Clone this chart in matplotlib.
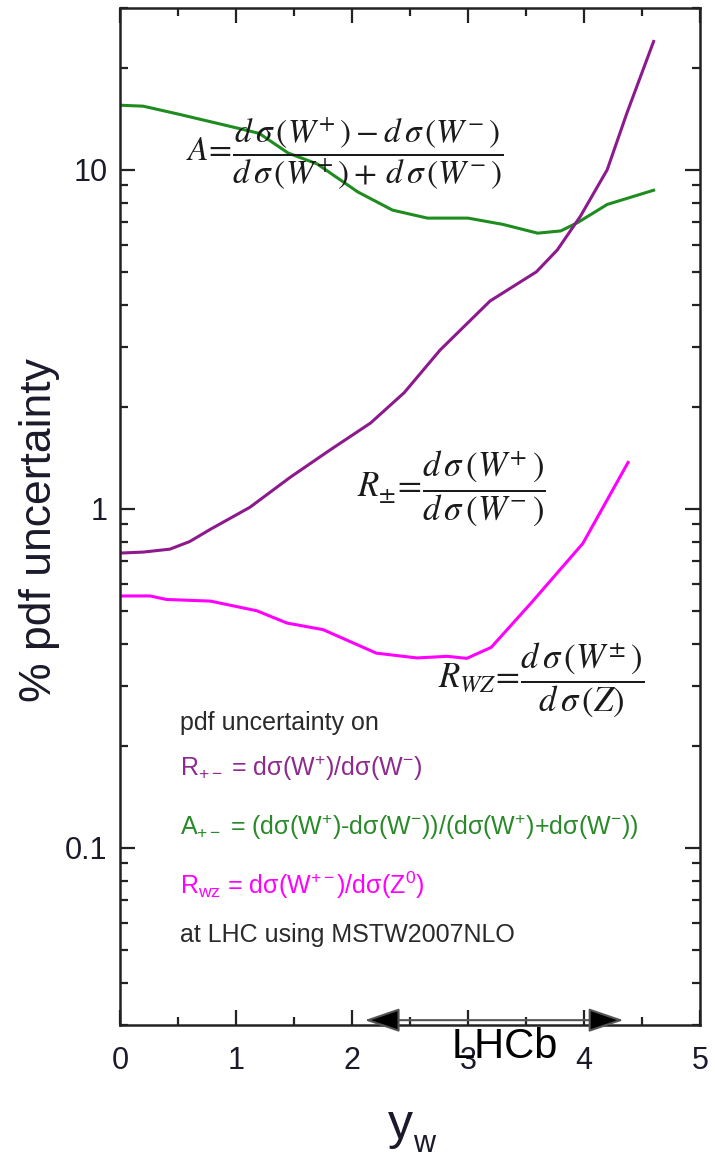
import matplotlib
matplotlib.use("Agg")
import matplotlib.pyplot as plt
from matplotlib.ticker import FixedLocator, NullFormatter, LogLocator

# PDF uncertainty (%) vs W rapidity
y_A = [0.0, 0.2, 0.5, 1.0, 1.2, 1.45, 1.7, 2.05, 2.35, 2.65, 3.0, 3.3, 3.6, 3.8, 3.95, 4.2, 4.6]
unc_A = [15.5, 15.4, 14.6, 13.3, 12.8, 11.2, 10.4, 8.6, 7.6, 7.2, 7.2, 6.9, 6.5, 6.6, 7.0, 7.9, 8.7]

y_Rpm = [0.0, 0.2, 0.43, 0.6, 0.78, 1.12, 1.47, 1.81, 2.16, 2.45, 2.76, 3.19, 3.59, 3.77, 3.97, 4.2, 4.37, 4.6]
unc_Rpm = [0.74, 0.745, 0.76, 0.80, 0.87, 1.01, 1.24, 1.49, 1.79, 2.2, 2.94, 4.1, 5.0, 5.8, 7.3, 10.0, 14.7, 23.9]

y_Rwz = [0.0, 0.26, 0.4, 0.78, 1.18, 1.44, 1.75, 2.21, 2.56, 2.82, 2.99, 3.2, 3.55, 3.99, 4.38]
unc_Rwz = [0.553, 0.553, 0.54, 0.534, 0.50, 0.46, 0.44, 0.375, 0.363, 0.367, 0.362, 0.39, 0.53, 0.79, 1.37]

lhcb_range = [2.11, 4.34]

x_ticks = [0, 1, 2, 3, 4, 5]
y_ticks = [0.1, 1, 10]
y_ticklabels = ["0.1", "1", "10"]

legend_lines = [
    ("pdf uncertainty on", "#2a2a2a"),
    (r"$\mathregular{R_{+-}}$ = dσ(W$\mathregular{^{+}}$)/dσ(W$\mathregular{^{-}}$)", "#8e2a8e"),
    (r"$\mathregular{A_{+-}}$ = (dσ(W$\mathregular{^{+}}$)-dσ(W$\mathregular{^{-}}$))/(dσ(W$\mathregular{^{+}}$)+dσ(W$\mathregular{^{-}}$))", "#2a8a2a"),
    (r"$\mathregular{R_{wz}}$ = dσ(W$\mathregular{^{+-}}$)/dσ(Z$\mathregular{^{0}}$)", "#ff00ff"),
    ("at LHC using MSTW2007NLO", "#2a2a2a"),
]

c_green = "#1f8c1f"
c_purple = "#8c1a8c"
c_magenta = "#ff00ff"

plt.rcParams["font.family"] = ["Liberation Sans", "DejaVu Sans"]
plt.rcParams["mathtext.fontset"] = "stix"

fig = plt.figure(figsize=(7.15, 11.6), dpi=100)
ax = fig.add_axes([120 / 715, 1 - 1025 / 1160, 580 / 715, 1017 / 1160])

ax.plot(y_A, unc_A, color=c_green, lw=2.2)
ax.plot(y_Rpm, unc_Rpm, color=c_purple, lw=2.2)
ax.plot(y_Rwz, unc_Rwz, color=c_magenta, lw=2.2)

ax.set_yscale("log")
ax.set_xlim(0, 5)
ax.set_ylim(0.03, 30)

ax.xaxis.set_major_locator(FixedLocator(x_ticks))
ax.xaxis.set_minor_locator(FixedLocator([0.5, 1.5, 2.5, 3.5, 4.5]))
ax.yaxis.set_major_locator(FixedLocator(y_ticks))
ax.yaxis.set_minor_locator(LogLocator(base=10, subs=range(2, 10)))
ax.yaxis.set_minor_formatter(NullFormatter())
ax.set_xticklabels([str(t) for t in x_ticks])
ax.set_yticklabels(y_ticklabels)

for lab in ax.get_xticklabels() + ax.get_yticklabels():
    lab.set_fontsize(22)
    lab.set_color("#1a1a2a")

ax.tick_params(which="both", direction="in", top=True, right=True, width=1.6, color="#222222")
ax.tick_params(which="major", length=11)
ax.tick_params(which="minor", length=6)
ax.tick_params(axis="x", which="major", pad=15)
ax.tick_params(axis="y", which="major", pad=9)
for sp in ax.spines.values():
    sp.set_linewidth(1.8)
    sp.set_color("#222222")

fig.text(40 / 715, 1 - 530 / 1160, "% pdf uncertainty", fontsize=32, rotation=90,
         ha="center", va="center", color="#1a1a2a")
# x label: y with a small w subscript
fig.text(413 / 715, 1 - 1126 / 1160, "y", fontsize=36,
         ha="right", va="center", color="#1a1a2a")
fig.text(413 / 715, 1 - 1144 / 1160, "w", fontsize=22,
         ha="left", va="center", color="#1a1a2a")

# formulas
ax.text(0.57, 11.2,
        r"$A\!=\!\dfrac{d\,\sigma\,\left(W^{+}\,\right)-d\,\sigma\,\left(W^{-}\,\right)}{d\,\sigma\,\left(W^{+}\,\right)+\,d\,\sigma\,\left(W^{-}\,\right)}$",
        fontsize=24, ha="left", va="center", color="#1a1a1a")
ax.text(2.04, 1.15,
        r"$R_{\pm}\!=\!\dfrac{d\,\sigma\,\left(W^{+}\,\right)}{d\,\sigma\,\left(W^{-}\,\right)}$",
        fontsize=25, ha="left", va="center", color="#1a1a1a")
ax.text(2.74, 0.311,
        r"$R_{WZ}\!=\!\dfrac{d\,\sigma\,\left(W^{\pm}\,\right)}{d\,\sigma\,\left(Z\right)}$",
        fontsize=25, ha="left", va="center", color="#1a1a1a")

# legend block
legend_y = [723, 768, 827, 885, 935]
for (txt, col), py in zip(legend_lines, legend_y):
    fig.text(180 / 715, 1 - py / 1160, txt, fontsize=18,
             color=col, ha="left", va="center")

# LHCb acceptance arrow
ax.annotate("", xy=(lhcb_range[0], 0.031), xytext=(lhcb_range[1], 0.031),
            arrowprops=dict(arrowstyle="<|-|>,head_length=2.2,head_width=0.75",
                            fc="black", ec="#555555", lw=1.5, shrinkA=0, shrinkB=0),
            annotation_clip=False)
fig.text(505 / 715, 1 - 1047 / 1160, "LHCb", fontsize=30, ha="center", va="center", color="black")

fig.savefig("out.png", dpi=100)
